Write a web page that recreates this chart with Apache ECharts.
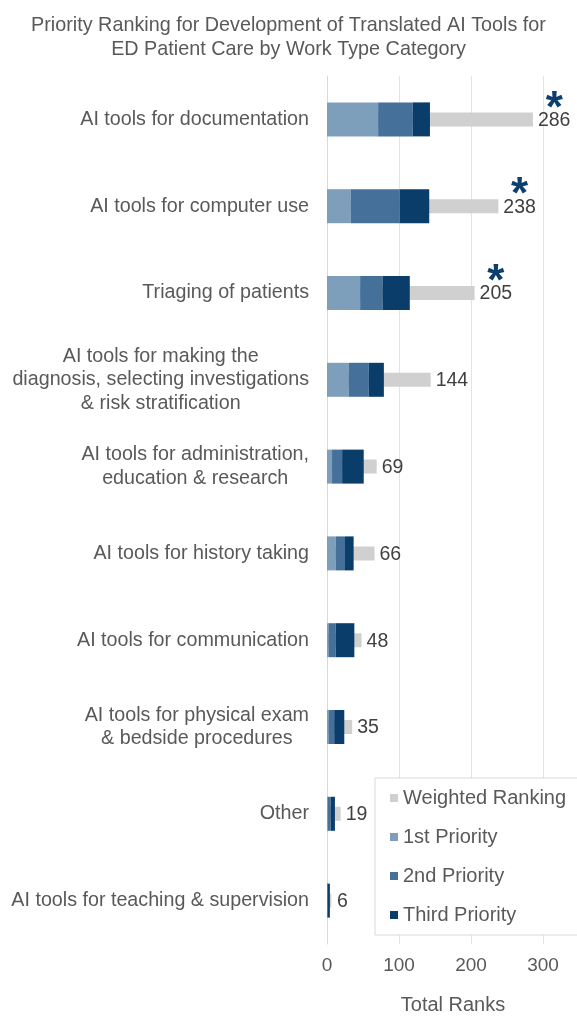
<!DOCTYPE HTML>
<html>
	<head>
		<meta charset="utf-8">
		<title></title>
		<style type="text/css">
			html, body { margin: 0; padding: 0; background: #fff; }
		</style>
	</head>
	<body>
		<div id="main" style="width: 577px;height:1016px;"></div>
	</body>
	<script type="text/javascript" src="https://cdn.jsdelivr.net/npm/echarts@6/dist/echarts.min.js"></script>
	<script type="text/javascript">
		var categories = [
			'AI tools for documentation',
			'AI tools for computer use',
			'Triaging of patients',
			'AI tools for making the\ndiagnosis, selecting investigations\n& risk stratification',
			'AI tools for administration,\neducation & research',
			'AI tools for history taking',
			'AI tools for communication',
			'AI tools for physical exam\n& bedside procedures',
			'Other',
			'AI tools for teaching & supervision'
		];
		var weighted = [286, 238, 205, 144, 69, 66, 48, 35, 19, 6];
		var first = [71, 33, 46, 30, 7, 12, 2, 2, 1, 0];
		var second = [48, 68, 31, 28, 14, 13, 10, 8, 4, 1];
		var third = [24, 41, 38, 21, 30, 12, 26, 14, 6, 3];
		var starred = [true, true, true, false, false, false, false, false, false, false];
		var xTicks = [0, 100, 200, 300];

		var font = 'Liberation Sans, Arial, sans-serif';

		option = {
			backgroundColor : '#fff',
			textStyle : { fontFamily : font },
			title : {
				text : 'Priority Ranking for Development of Translated AI Tools for\nED Patient Care by Work Type Category',
				left : 'center',
				top : 9,
				textStyle : {
					fontFamily : font,
					fontWeight : 'normal',
					fontSize : 19.8,
					lineHeight : 24,
					color : '#595959'
				}
			},
			legend : {
				orient : 'vertical',
				left : 375,
				top : 778,
				padding : [10, 30, 10, 15],
				itemGap : 19,
				itemWidth : 8,
				itemHeight : 8,
				icon : 'rect',
				borderColor : '#d9d9d9',
				borderWidth : 1,
				backgroundColor : '#fff',
				textStyle : { fontFamily : font, fontSize : 20, color : '#595959', lineHeight : 19 },
				data : ['Weighted Ranking', '1st Priority', '2nd Priority', 'Third Priority']
			},
			grid : {
				left : 327,
				right : -2,
				top : 76,
				bottom : 72,
				outerBoundsMode : 'none'
			},
			xAxis : {
				type : 'value',
				min : 0,
				max : 350,
				interval : 100,
				name : 'Total Ranks',
				nameLocation : 'middle',
				nameGap : 51,
				nameTextStyle : { fontFamily : font, fontSize : 20, color : '#595959' },
				axisLine : { show : false },
				axisTick : { show : false },
				axisLabel : {
					margin : 12,
					fontSize : 19,
					color : '#595959',
					showMaxLabel : false,
					formatter : function (v) {
						return xTicks.indexOf(v) >= 0 ? String(v) : '';
					}
				},
				splitLine : { lineStyle : { color : '#e3e3e3', width : 1 } }
			},
			yAxis : [{
				type : 'category',
				inverse : true,
				data : categories,
				axisLine : { lineStyle : { color : '#d9d9d9' } },
				axisTick : { show : false },
				axisLabel : {
					margin : 18,
					color : '#595959',
					fontSize : 19.7,
					lineHeight : 23.5,
					formatter : function (v) {
						return v.split('\n').map(function (s) { return '{c|' + s + '}'; }).join('\n');
					},
					rich : {
						c : { align : 'center', fontSize : 19.7, lineHeight : 23.5, color : '#595959', fontFamily : font }
					}
				}
			}, {
				type : 'category',
				inverse : true,
				show : false,
				data : categories
			}],
			series : [{
				name : 'Weighted Ranking',
				type : 'bar',
				yAxisIndex : 1,
				barWidth : 14,
				z : 1,
				itemStyle : { color : '#d0d0d0' },
				label : {
					show : true,
					position : 'right',
					distance : 5,
					offset : [0, -4],
					formatter : function (p) {
						var s = starred[p.dataIndex] ? '*' : ' ';
						return '{s|' + s + '}\n{v|' + p.value + '}';
					},
					rich : {
						s : { align : 'center', fontSize : 44, fontWeight : 'bold', lineHeight : 10, color : '#0d3f6e', fontFamily : font },
						v : { align : 'center', fontSize : 19.5, lineHeight : 12, color : '#404040', fontFamily : font }
					}
				},
				data : weighted
			}, {
				name : '1st Priority',
				type : 'bar',
				stack : 'p',
				barWidth : 34,
				z : 2,
				itemStyle : { color : '#7e9fbb' },
				data : first
			}, {
				name : '2nd Priority',
				type : 'bar',
				stack : 'p',
				barWidth : 34,
				z : 2,
				itemStyle : { color : '#44709a' },
				data : second
			}, {
				name : 'Third Priority',
				type : 'bar',
				stack : 'p',
				barWidth : 34,
				z : 2,
				itemStyle : { color : '#0b3d6b' },
				data : third
			}]
		};

		var myChart = echarts.init(document.getElementById('main'));
		myChart.setOption(option);
	</script>
</html>
